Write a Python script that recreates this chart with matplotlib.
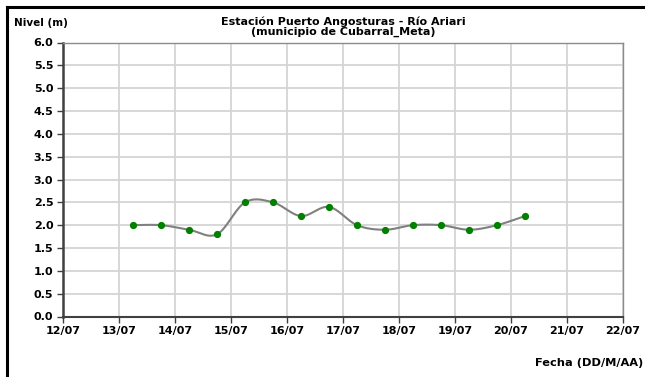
import numpy as np
import pandas as pd
import matplotlib
matplotlib.use("Agg")
import matplotlib.pyplot as plt
import matplotlib.dates as mdates
from matplotlib.lines import Line2D

plt.rcParams['font.family'] = ['DejaVu Sans']

# ---- data ----
fechas = pd.to_datetime([
    "2014-07-13 06:00", "2014-07-13 18:00", "2014-07-14 06:00", "2014-07-14 18:00",
    "2014-07-15 06:00", "2014-07-15 18:00", "2014-07-16 06:00", "2014-07-16 18:00",
    "2014-07-17 06:00", "2014-07-17 18:00", "2014-07-18 06:00", "2014-07-18 18:00",
    "2014-07-19 06:00", "2014-07-19 18:00", "2014-07-20 06:00",
])
nivel = [2.0, 2.0, 1.9, 1.8, 2.5, 2.5, 2.2, 2.4, 2.0, 1.9, 2.0, 2.0, 1.9, 2.0, 2.2]
x_inicio = "2014-07-12"
x_fin = "2014-07-22"
y_ticks = [0.0, 0.5, 1.0, 1.5, 2.0, 2.5, 3.0, 3.5, 4.0, 4.5, 5.0, 5.5, 6.0]
titulo = "Estación Puerto Angosturas - Río Ariari\n(municipio de Cubarral_Meta)"
ylabel = "Nivel (m)"
xlabel = "Fecha (DD/M/AA)"


def smooth(xs, ys, n=30):
    """Excel-style smoothed line (Catmull-Rom Bezier)."""
    xs = np.asarray(xs, float)
    ys = np.asarray(ys, float)
    px, py = [], []
    N = len(xs)
    for i in range(N - 1):
        x0, y0 = xs[max(i - 1, 0)], ys[max(i - 1, 0)]
        x1, y1 = xs[i], ys[i]
        x2, y2 = xs[i + 1], ys[i + 1]
        x3, y3 = xs[min(i + 2, N - 1)], ys[min(i + 2, N - 1)]
        c1x, c1y = x1 + (x2 - x0) / 6, y1 + (y2 - y0) / 6
        c2x, c2y = x2 - (x3 - x1) / 6, y2 - (y3 - y1) / 6
        t = np.linspace(0, 1, n)
        bx = (1 - t) ** 3 * x1 + 3 * (1 - t) ** 2 * t * c1x + 3 * (1 - t) * t ** 2 * c2x + t ** 3 * x2
        by = (1 - t) ** 3 * y1 + 3 * (1 - t) ** 2 * t * c1y + 3 * (1 - t) * t ** 2 * c2y + t ** 3 * y2
        px.extend(bx)
        py.extend(by)
    return np.array(px), np.array(py)


fig = plt.figure(figsize=(6.45, 3.77), dpi=100)
W, H = 645, 377
ax = fig.add_axes([63 / W, 1 - 316.5 / H, (623 - 63) / W, (316.5 - 42.5) / H])

xn = mdates.date2num(fechas)
sx, sy = smooth(xn, nivel)
ax.plot(sx, sy, color="#808080", lw=1.5, zorder=3)
ax.plot(xn, nivel, "o", color="#008000", ms=4.2, mec="#008000", zorder=4)

ax.set_xlim(mdates.date2num(pd.Timestamp(x_inicio)), mdates.date2num(pd.Timestamp(x_fin)))
ax.set_ylim(0, 6)
ax.xaxis.set_major_locator(mdates.DayLocator())
ax.xaxis.set_major_formatter(mdates.DateFormatter("%d/%m"))
ax.set_yticks(y_ticks)
ax.yaxis.set_major_formatter(matplotlib.ticker.FormatStrFormatter("%.1f"))

ax.grid(True, color="#d4d4d4", lw=1.3, zorder=0)
ax.set_axisbelow(True)
for s in ["top", "right"]:
    ax.spines[s].set_color("#8c8c8c")
    ax.spines[s].set_linewidth(1.0)
ax.spines["left"].set_color("#404040")
ax.spines["left"].set_linewidth(1.8)
ax.spines["bottom"].set_color("#404040")
ax.spines["bottom"].set_linewidth(1.5)
ax.tick_params(axis="both", direction="out", length=4, width=1, color="#404040",
               labelsize=8)
ax.tick_params(axis="x", pad=2.5)
ax.tick_params(axis="y", pad=3)
for lab in ax.get_xticklabels() + ax.get_yticklabels():
    lab.set_fontweight("bold")

fig.text(343 / W, 1 - 27 / H, titulo, ha="center", va="center", fontsize=8,
         fontweight="bold", linespacing=1.0)
fig.text(14 / W, 1 - 23 / H, ylabel, ha="left", va="center", fontsize=7.5, fontweight="bold")
fig.text(643 / W, 1 - 362.5 / H, xlabel, ha="right", va="center", fontsize=8.2, fontweight="bold")

# outer frame (top and left visible)
fig.add_artist(Line2D([7 / W, 7 / W], [0, 1 - 7 / H], color="black", lw=2.2, transform=fig.transFigure))
fig.add_artist(Line2D([7 / W, 1], [1 - 7 / H, 1 - 7 / H], color="black", lw=2.2, transform=fig.transFigure))

fig.savefig("out.png", dpi=100)
